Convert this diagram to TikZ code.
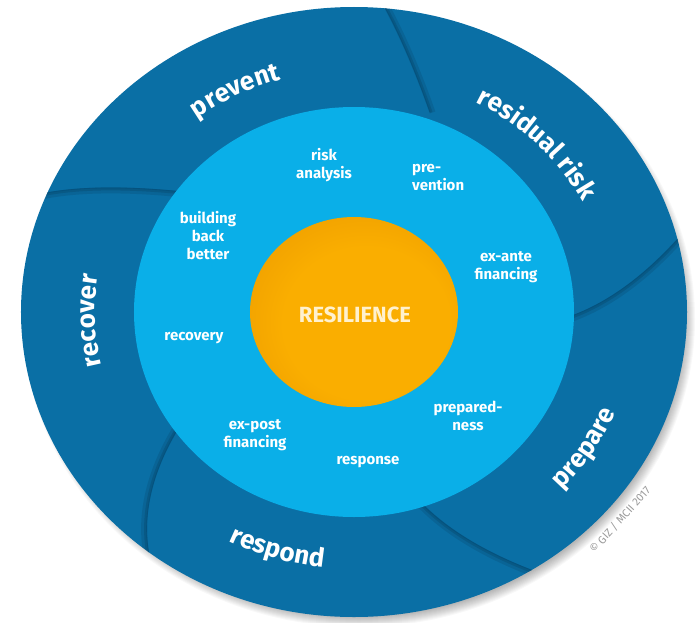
\documentclass[tikz,border=0pt]{standalone}
\usepackage{fontspec}
\setmainfont{Fira Sans}
\usetikzlibrary{decorations.text}

\definecolor{ringblue}{RGB}{10,111,165}
\definecolor{seamblue}{RGB}{5,82,126}
\definecolor{skyblue}{RGB}{10,175,232}
\definecolor{orangeA}{RGB}{250,174,0}
\definecolor{orangeB}{RGB}{234,152,0}
\definecolor{orangeC}{RGB}{188,116,0}
\definecolor{cream}{RGB}{255,241,206}
\definecolor{copygray}{RGB}{155,155,155}

% glossy core: flat orange with a darker rim
\pgfdeclareradialshading{orb}{\pgfpoint{5bp}{-5bp}}{%
  color(0bp)=(orangeA); color(20bp)=(orangeA); color(38bp)=(orangeB); color(50bp)=(orangeC)}

\newcommand\ringfont{\bfseries\fontsize{26}{26}\selectfont}

\begin{document}
\begin{tikzpicture}[x=1pt,y=1pt,
  cwlabel/.style={decorate, decoration={text along path, text align=center,
      text color=white, text={|\ringfont|#1}}},
  inlabel/.style={text=white, font=\bfseries\fontsize{15}{18}\selectfont,
      align=center, inner sep=0pt},
  seam/.style 2 args={
      preaction={draw=black, opacity=.09, line width=6pt,
        transform canvas={shift={(#1,#2)}}},
      preaction={draw=black, opacity=.11, line width=2.5pt,
        transform canvas={shift={(0.5*#1,0.5*#2)}}},
      draw=seamblue, line width=0.8pt}
]
\fill[white] (-354,-310) rectangle (344,312);
\useasboundingbox (-354,-310) rectangle (344,312);

% soft drop shadow of the disc
\foreach \i in {0,...,10}
  \fill[black, opacity=0.026] (5,-7) ellipse [x radius={(326+\i)*1pt}, y radius={(298+\i)*1pt}];

% outer ring of the five phases
\fill[ringblue] (0,0) ellipse [x radius=333pt, y radius=305pt];

% overlapping petals of the ring
\begin{scope}
  \clip (0,0) ellipse [x radius=333pt, y radius=305pt];
  \draw[seam={0}{-2.5}] (-336,112) .. controls (-290,127) and (-230,126) .. (-170,120);
  \draw[seam={2.5}{-0.5}] (27,312) .. controls (45,280) and (62,240) .. (76,200);
  \draw[seam={0.7}{-2.5}] (332,82) .. controls (300,45) and (260,10) .. (212,-6);
  \draw[seam={-0.5}{-2.5}] (66,-190) .. controls (100,-225) and (150,-250) .. (205,-268);
  \draw[seam={-2.5}{0}] (-177,-118) .. controls (-205,-165) and (-216,-215) .. (-200,-262);
\end{scope}

% middle ring of measures
\fill[skyblue] (0,0) ellipse [x radius=220pt, y radius=205pt];

% core
\shade[shading=orb] (0,0) ellipse [x radius=104pt, y radius=95pt];

% phase labels along the ring
\path[cwlabel=prevent] (152:262pt and 242pt) arc[start angle=152, end angle=82, x radius=262pt, y radius=242pt];
\path[cwlabel=residual risk] (84:258pt and 238pt) arc[start angle=84, end angle=4, x radius=258pt, y radius=238pt];
\path[cwlabel=recover] (222:259pt and 239pt) arc[start angle=222, end angle=142, x radius=259pt, y radius=239pt];
\path[cwlabel=respond] (218:276pt and 257pt) arc[start angle=218, end angle=288, x radius=276pt, y radius=257pt];
\path[cwlabel=prepare] (293:283pt and 262pt) arc[start angle=293, end angle=363, x radius=283pt, y radius=262pt];

% measures
\node[inlabel] (risk) at (-30,147) {risk\\analysis};
\node[inlabel, anchor=west, align=left] (prev) at (58,134) {pre-\\vention};
\node[inlabel] (bbb) at (-146,76) {building\\back\\better};
\node[inlabel] (exante) at (152,45) {ex-ante\\financing};
\node[inlabel] (recov) at (-160,-26) {recovery};
\node[inlabel] (expost) at (-99,-123) {ex-post\\financing};
\node[inlabel] (resp) at (14,-150) {response};
\node[inlabel] (prep) at (114,-104) {prepared-\\ness};

\node[text=cream, font=\bfseries\fontsize{22}{22}\selectfont] (core) at (1,-3) {RESILIENCE};

\node[rotate=48, text=copygray, font=\fontsize{11}{11}\selectfont] (copy) at (266,-208) {© GIZ / MCII 2017};
\end{tikzpicture}
\end{document}
